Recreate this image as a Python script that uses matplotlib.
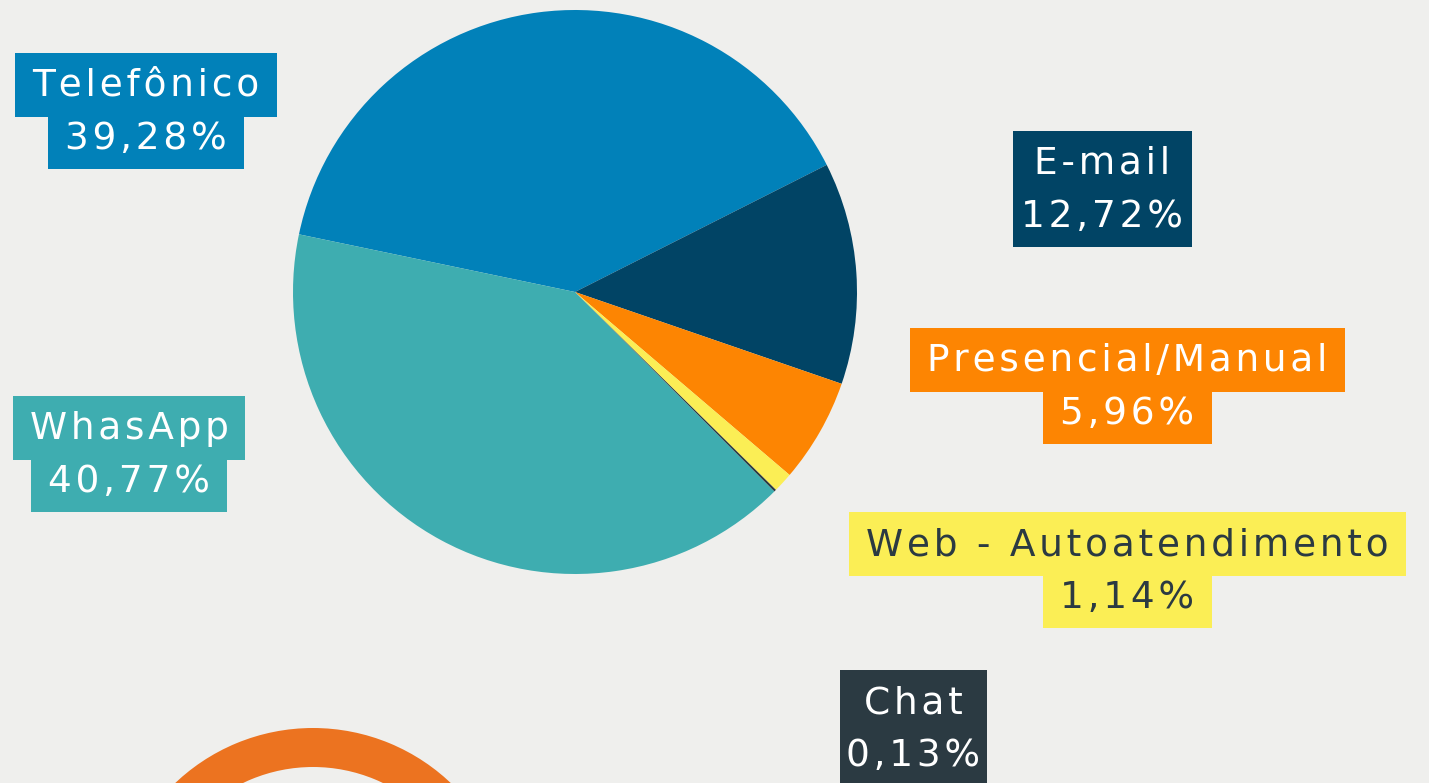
import matplotlib.pyplot as plt
from matplotlib.patches import Rectangle, Wedge

# Service channels and their share of contacts (%)
channels = ['Telefônico', 'E-mail', 'Presencial/Manual', 'Web - Autoatendimento', 'Chat', 'WhasApp']
shares = [39.28, 12.72, 5.96, 1.14, 0.13, 40.77]

# Styling
slice_colors = ['#0181b9', '#014465', '#fd8502', '#fbee55', '#2b3a42', '#3eadb0']
text_colors = ['white', 'white', 'white', '#2b3a42', 'white', 'white']
# label anchor: centre x and first baseline, pixels from the top-left corner
label_pos = [(146, 96), (1102.5, 174), (1127.5, 371), (1127.5, 555), (913.5, 713), (129, 439)]
# labels whose two lines share one box of equal width
single_box = [False, True, False, False, True, False]

W, H = 1429, 783
SPACER = '\u200a'  # hair space, for the wide letter spacing of the original


def spaced(s):
    return SPACER.join(s)


fig = plt.figure(figsize=(W / 100, H / 100), dpi=100)
fig.patch.set_facecolor('#efefed')
ax = fig.add_axes([0, 0, 1, 1])

# Pie
ax.pie(shares, colors=slice_colors, startangle=168.2, counterclock=False,
       center=(575, H - 292), radius=282, frame=True)

# Decorative ring at the bottom
ax.add_patch(Wedge((313, H - 928), 200, 0, 360, width=39, color='#ec7320', lw=0))

ax.set_xlim(0, W)
ax.set_ylim(0, H)
ax.axis('off')

# Labels with highlighted boxes, one box per line
renderer = fig.canvas.get_renderer()
for name, val, bg, fg, (cx, b1), merged in zip(channels, shares, slice_colors, text_colors,
                                               label_pos, single_box):
    lines = [name, f'{val:.2f}'.replace('.', ',') + '%']
    b2 = b1 + 53
    spans = [(b1 - 43, b1 + 21), (b1 + 21, b2 + 20)]
    widths = []
    for line, base in zip(lines, [b1, b2]):
        t = ax.text(cx, H - base, spaced(line), ha='center', va='baseline', color=fg,
                    fontsize=27, family=['DejaVu Sans'], zorder=3)
        widths.append(t.get_window_extent(renderer).width + 34)
    if merged:
        widths = [sum(widths) / 2 - 4] * 2
    for w, (top, bottom) in zip(widths, spans):
        ax.add_patch(Rectangle((cx - w / 2, H - bottom), w, bottom - top,
                               facecolor=bg, lw=0, zorder=2))

plt.savefig('out.png', dpi=100, facecolor=fig.get_facecolor())
